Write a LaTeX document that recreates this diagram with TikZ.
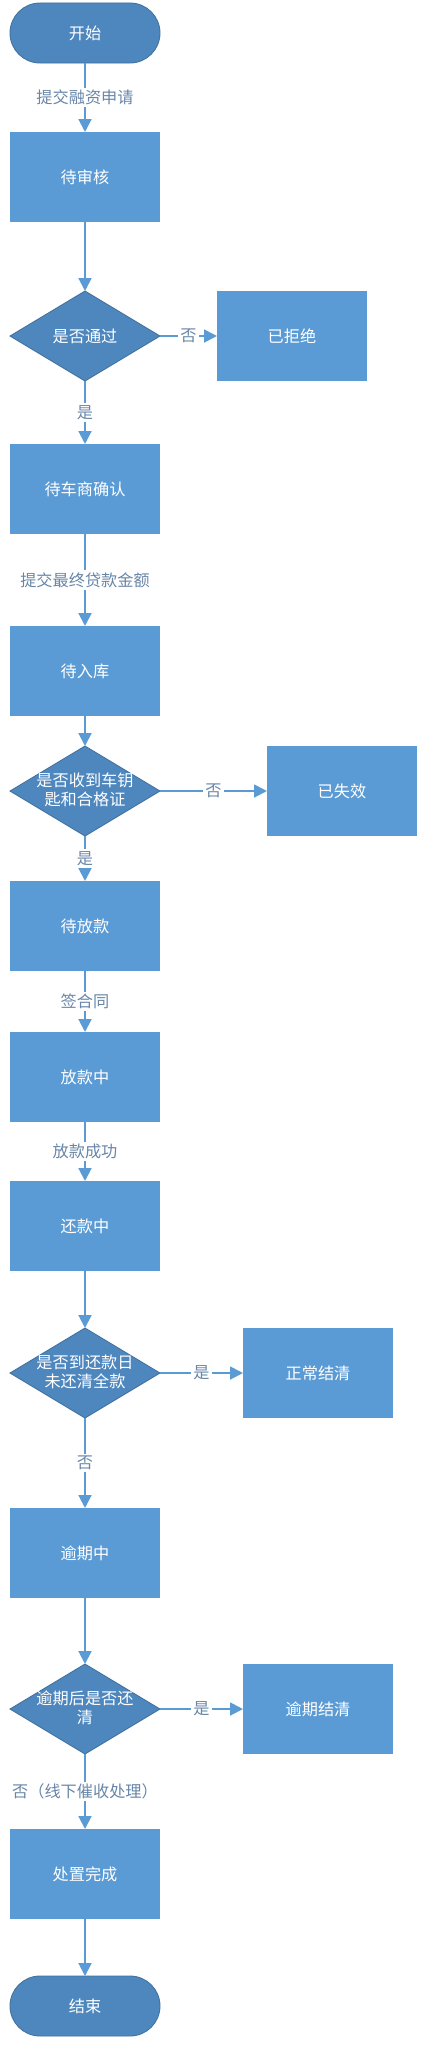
\documentclass[tikz,border=0pt]{standalone}
\usepackage{fontspec}
\setmainfont{Noto Sans CJK SC}
\usepackage{tikz}
\usetikzlibrary{shapes.geometric,arrows.meta}

\definecolor{boxblue}{RGB}{91,155,213}
\definecolor{darkblue}{RGB}{78,134,190}
\definecolor{edgeblue}{RGB}{65,113,156}
\definecolor{labelgray}{RGB}{104,134,168}

\begin{document}
\begin{tikzpicture}[x=0.025cm,y=-0.025cm,
    font=\fontsize{11.5}{14}\selectfont,
    stepbox/.style={rectangle,fill=boxblue,text=white,minimum width=3.75cm,minimum height=2.25cm,inner sep=0pt,outer sep=0pt},
    terminal/.style={rectangle,rounded corners=0.75cm,fill=darkblue,draw=edgeblue,line width=0.6pt,text=white,minimum width=3.75cm,minimum height=1.5cm,inner sep=0pt,outer sep=0pt},
    decision/.style={diamond,fill=darkblue,draw=edgeblue,line width=0.6pt,minimum width=3.75cm,minimum height=2.25cm,inner sep=0pt,outer sep=0pt},
    dtext/.style={text=white,align=center,inner sep=0pt,font=\fontsize{11.5}{13.5}\selectfont},
    flow/.style={draw=boxblue,line width=1.4pt,-{Triangle[width=0.32cm,length=0.32cm]}},
    elabel/.style={fill=white,text=labelgray,inner sep=1.5pt}]

    \useasboundingbox (0,0) rectangle (425,2048);

    \node[terminal] (start) at (85,33) {开始};
    \node[stepbox] (audit) at (85,177) {待审核};

    \node[decision] (pass) at (85,336) {};
    \node[dtext] (passtext) at (pass) {是否通过};
    \node[stepbox] (reject) at (292,336) {已拒绝};

    \node[stepbox] (dealer) at (85,489) {待车商确认};
    \node[stepbox] (stock) at (85,671) {待入库};

    \node[decision] (keys) at (85,791) {};
    \node[dtext] (keystext) at (85,790) {是否收到车钥\\匙和合格证};
    \node[stepbox] (expired) at (342,791) {已失效};

    \node[stepbox] (waitloan) at (85,926) {待放款};
    \node[stepbox] (loaning) at (85,1077) {放款中};
    \node[stepbox] (repaying) at (85,1226) {还款中};

    \node[decision] (due) at (85,1373) {};
    \node[dtext] (duetext) at (85,1372) {是否到还款日\\未还清全款};
    \node[stepbox] (settled) at (318,1373) {正常结清};

    \node[stepbox] (overdue) at (85,1553) {逾期中};

    \node[decision] (late) at (85,1709) {};
    \node[dtext] (latetext) at (85,1708) {逾期后是否还\\清};
    \node[stepbox] (latesettled) at (318,1709) {逾期结清};

    \node[stepbox] (disposed) at (85,1874) {处置完成};
    \node[terminal] (stop) at (85,2006) {结束};

    \draw[flow] (start) -- node[elabel] {提交融资申请} (audit);
    \draw[flow] (audit) -- (pass);
    \draw[flow] (pass) -- node[elabel] {否} (reject);
    \draw[flow] (pass) -- node[elabel] {是} (dealer);
    \draw[flow] (dealer) -- node[elabel] {提交最终贷款金额} (stock);
    \draw[flow] (stock) -- (keys);
    \draw[flow] (keys) -- node[elabel] {否} (expired);
    \draw[flow] (keys) -- node[elabel] {是} (waitloan);
    \draw[flow] (waitloan) -- node[elabel] {签合同} (loaning);
    \draw[flow] (loaning) -- node[elabel] {放款成功} (repaying);
    \draw[flow] (repaying) -- (due);
    \draw[flow] (due) -- node[elabel] {是} (settled);
    \draw[flow] (due) -- node[elabel] {否} (overdue);
    \draw[flow] (overdue) -- (late);
    \draw[flow] (late) -- node[elabel] {是} (latesettled);
    \draw[flow] (late) -- node[elabel] {否（线下催收处理）} (disposed);
    \draw[flow] (disposed) -- (stop);

  \end{tikzpicture}
\end{document}
